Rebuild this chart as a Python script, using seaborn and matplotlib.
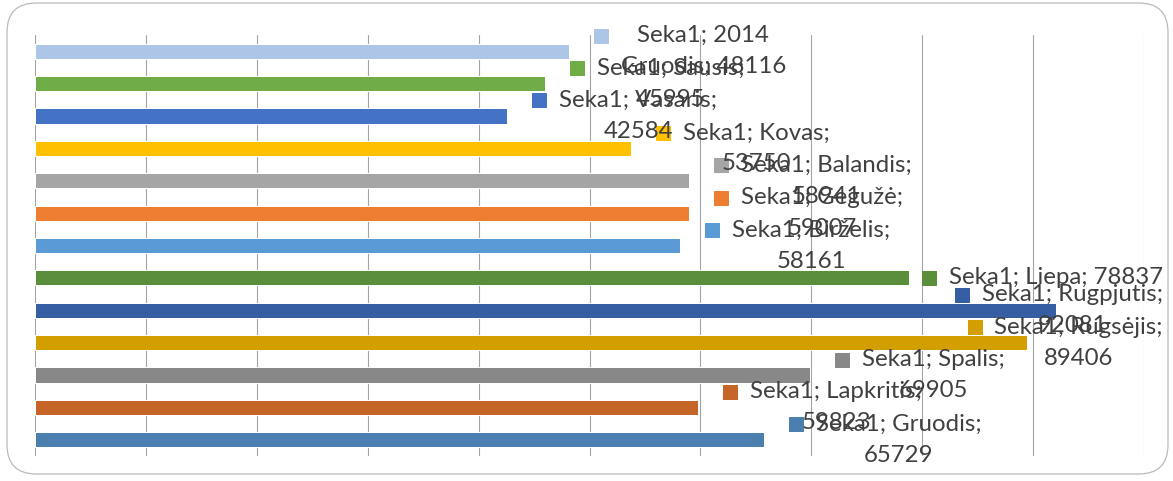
import matplotlib
matplotlib.use("Agg")
import matplotlib.pyplot as plt
import seaborn as sns
import pandas as pd
from matplotlib.patches import FancyBboxPatch

# ---- data ----
series_name = "Seka1"
categories = ["2014 Gruodis", "Sausis", "Vasaris", "Kovas", "Balandis", "Gegužė",
              "Birželis", "Liepa", "Rugpjutis", "Rugsėjis", "Spalis", "Lapkritis", "Gruodis"]
values = [48116, 45995, 42584, 53750, 58941, 59007, 58161, 78837, 92081, 89406, 69905, 59823, 65729]
first_line_words = [2, 2, 2, 2, 2, 2, 2, 3, 2, 2, 2, 2, 2]
colors = ["#adc5e7", "#70ad47", "#4472c4", "#ffc000", "#a5a5a5", "#ed7d31", "#5b9bd5",
          "#5b8e3a", "#355ea3", "#d29e00", "#888888", "#c56528", "#4a7fb0"]

W, H, DPI = 1173, 481, 72
sns.set_theme(style="white")
plt.rcParams['font.family'] = ['Lato', 'DejaVu Sans']

fig = plt.figure(figsize=(W / DPI, H / DPI), dpi=DPI)
fig.patch.set_facecolor("white")

# rounded chart border
border = FancyBboxPatch((7 / W, 7 / H), (1168 - 7) / W, (478 - 7) / H,
                        boxstyle="round,pad=0,rounding_size=0.025",
                        transform=fig.transFigure, facecolor="none",
                        edgecolor="#b8b8b8", linewidth=1.2, mutation_aspect=W / H)
fig.patches.append(border)

ax = fig.add_axes([35 / W, 1 - 456 / H, (1144 - 35) / W, (456 - 35) / H])
df = pd.DataFrame({"cat": categories, "val": values})
sns.barplot(data=df, x="val", y="cat", hue="cat", palette=colors, orient="h",
            dodge=False, legend=False, width=0.47, ax=ax, saturation=1)

ax.set_xlim(0, 100000)
ax.set_ylim(len(categories) - 0.5, -0.5)
ax.set_xticks(range(0, 100001, 10000))
ax.xaxis.grid(True, color="#a3a3a3", linewidth=1.1)
ax.set_axisbelow(True)
ax.set_xlabel("")
ax.set_ylabel("")
ax.tick_params(left=False, bottom=False, labelleft=False, labelbottom=False)
for s in ax.spines.values():
    s.set_visible(False)

# ---- data labels (Excel-style with legend key) ----
fig.canvas.draw()
renderer = fig.canvas.get_renderer()
fs = 24
tcol = "#404040"
line_off = 15.5
right_limit = 1163
for i, (cat, val) in enumerate(zip(categories, values)):
    words = f"{series_name}; {cat}; {val}".split(" ")
    n1 = first_line_words[i]
    line1 = " ".join(words[:n1])
    line2 = " ".join(words[n1:])
    two = len(line2) > 0
    bx, by = ax.transData.transform((val, i))
    t1 = fig.text(0, 0, line1, fontsize=fs, color=tcol, ha="center", va="center",
                  transform=None)
    wmax = t1.get_window_extent(renderer).width
    t2 = None
    if two:
        t2 = fig.text(0, 0, line2, fontsize=fs, color=tcol, ha="center", va="center",
                      transform=None)
        wmax = max(wmax, t2.get_window_extent(renderer).width)
    left = bx + (52 if two else 40)
    if left + wmax > right_limit:
        left = right_limit - wmax
    cx = left + wmax / 2
    y1 = by + line_off if two else by
    t1.set_position((cx, y1))
    if t2 is not None:
        t2.set_position((cx, by - line_off))
    sq = plt.Line2D([left - 20], [y1], marker="s", markersize=14, color=colors[i],
                    linestyle="none", transform=None)
    fig.lines.append(sq)

fig.savefig("out.png", dpi=DPI, facecolor="white")
